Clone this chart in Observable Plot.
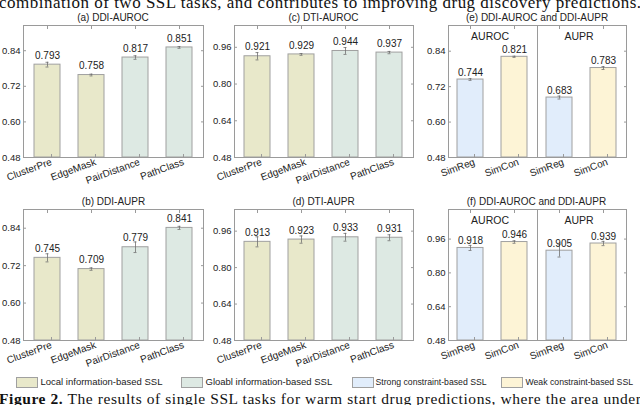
<!DOCTYPE html>
<html>
<head>
<meta charset="utf-8">
<script src="https://cdn.jsdelivr.net/npm/d3@7"></script>
<script src="https://cdn.jsdelivr.net/npm/@observablehq/plot@0.6"></script>
<style>
  html, body { margin: 0; padding: 0; background: #fff; }
  #wrap { position: relative; width: 640px; height: 405px; overflow: hidden; background: #fff;
          font-family: "Liberation Sans", Arial, Helvetica, sans-serif; color: #222; }
  .panel { position: absolute; }
  .ptitle { position: absolute; text-align: center; font-size: 10px; line-height: 10px; white-space: nowrap; }
  .sw { position: absolute; width: 20px; height: 9px; border: 1px solid #a0a0a0; }
  .lt { position: absolute; line-height: 10px; white-space: nowrap; }
  svg.para { position: absolute; left: 0; overflow: visible; }
</style>
</head>
<body>
<div id="wrap"></div>
<script>
// ---------- data ----------
const methods = ["ClusterPre", "EdgeMask", "PairDistance", "PathClass"];
const methodGroups = ["Local", "Local", "Global", "Global"];

const ddiAuroc = [0.793, 0.758, 0.817, 0.851];
const ddiAurocErr = [0.008, 0.003, 0.006, 0.003];
const ddiAupr = [0.745, 0.709, 0.779, 0.841];
const ddiAuprErr = [0.013, 0.004, 0.017, 0.005];
const dtiAuroc = [0.921, 0.929, 0.944, 0.937];
const dtiAurocErr = [0.016, 0.004, 0.015, 0.005];
const dtiAupr = [0.913, 0.923, 0.933, 0.931];
const dtiAuprErr = [0.022, 0.016, 0.017, 0.013];

const metrics = ["AUROC", "AUROC", "AUPR", "AUPR"];
const constraintMethods = ["SimReg", "SimCon", "SimReg", "SimCon"];
const constraintE = [0.744, 0.821, 0.683, 0.783];
const constraintEErr = [0.003, 0.002, 0.005, 0.005];
const constraintF = [0.918, 0.946, 0.905, 0.939];
const constraintFErr = [0.012, 0.006, 0.030, 0.010];

const ticksDdi = [0.48, 0.60, 0.72, 0.84];
const ticksDti = [0.48, 0.64, 0.80, 0.96];

const titles = ["(a) DDI-AUROC", "(b) DDI-AUPR", "(c) DTI-AUROC", "(d) DTI-AUPR",
                "(e) DDI-AUROC and DDI-AUPR", "(f) DDI-AUROC and DDI-AUPR"];
const legendLabels = ["Local information-based SSL", "Gloabl information-based SSL",
                      "Strong constraint-based SSL", "Weak constraint-based SSL"];
const legendColors = ["#e8e8ca", "#dde9e3", "#e1edfb", "#fdf4d6"];

const topText = "combination of two SSL tasks, and contributes to improving drug discovery predictions.";
const captionBold = "Figure 2.";
const captionRest = " The results of single SSL tasks for warm start drug predictions, where the area under";

// ---------- helpers ----------
const wrap = document.getElementById("wrap");
const FONT = "'Liberation Sans', Arial, Helvetica, sans-serif";
const FRAME = "#9a9a9a";

function rows(values, errs, cats, groups, facets) {
  return values.map((v, i) => ({
    method: cats[i], group: groups[i], value: v, err: errs[i], metric: facets ? facets[i] : null
  }));
}

function commonMarks(data, y0, yTicks, fx, labelDy) {
  const fxo = fx ? {fx: "metric"} : {};
  return [
    Plot.barY(data, {...fxo, x: "method", y1: y0, y2: "value", fill: "group", stroke: "#a0a0a0", strokeWidth: 1}),
    Plot.ruleX(data, {...fxo, x: "method", y1: d => d.value - d.err, y2: d => d.value + d.err, stroke: "#707070", strokeWidth: 0.8}),
    Plot.tickY(data, {...fxo, x: "method", y: d => d.value - d.err, stroke: "#707070", strokeWidth: 0.8, insetLeft: 11.5, insetRight: 11.5}),
    Plot.tickY(data, {...fxo, x: "method", y: d => d.value + d.err, stroke: "#707070", strokeWidth: 0.8, insetLeft: 11.5, insetRight: 11.5}),
    Plot.text(data, {...fxo, x: "method", y: "value", text: d => d.value.toFixed(3), dy: labelDy, fontSize: 10, fill: "#222"}),
    Plot.frame({stroke: FRAME, strokeWidth: 1}),
    Plot.axisY({ticks: yTicks, tickFormat: ".2f", tickSize: -3, tickPadding: 6, stroke: FRAME, fill: "#222", fontSize: 9.5, label: null}),
    Plot.axisY({ticks: yTicks, anchor: "right", tickSize: -3, tickFormat: () => "", stroke: FRAME, label: null}),
    Plot.axisX({tickRotate: -20, tickSize: -3, tickPadding: 7, dx: 4, stroke: FRAME, fill: "#222", fontSize: 10, label: null}),
    Plot.axisX({anchor: "top", tickSize: -3, tickFormat: () => "", stroke: FRAME, label: null})
  ];
}

function place(svg, left, top) {
  const d = document.createElement("div");
  d.className = "panel";
  d.style.left = left + "px";
  d.style.top = top + "px";
  d.appendChild(svg);
  wrap.appendChild(d);
}

function singlePanel(values, errs, yDomain, yTicks, layout) {
  const data = rows(values, errs, methods, methodGroups);
  return Plot.plot({
    width: layout.w, height: layout.h,
    marginLeft: layout.ml, marginRight: layout.mr, marginTop: layout.mt, marginBottom: layout.mb,
    style: {fontFamily: FONT, fontSize: "9.5px", background: "transparent", overflow: "visible", color: "#222"},
    x: {domain: methods, paddingInner: 0.4, paddingOuter: 0.22, label: null, axis: null},
    y: {domain: yDomain, label: null, axis: null},
    color: {domain: ["Local", "Global"], range: [legendColors[0], legendColors[1]]},
    marks: commonMarks(data, yDomain[0], yTicks, false, -9)
  });
}

function facetPanel(values, errs, yDomain, yTicks, layout) {
  const data = rows(values, errs, constraintMethods, constraintMethods, metrics);
  const facetNames = Array.from(new Set(metrics));
  return Plot.plot({
    width: layout.w, height: layout.h,
    marginLeft: layout.ml, marginRight: layout.mr, marginTop: layout.mt, marginBottom: layout.mb,
    style: {fontFamily: FONT, fontSize: "9.5px", background: "transparent", overflow: "visible", color: "#222"},
    fx: {domain: facetNames, padding: 0, axis: null, label: null},
    x: {domain: ["SimReg", "SimCon"], paddingInner: 0.4, paddingOuter: 0.2, label: null, axis: null},
    y: {domain: yDomain, label: null, axis: null},
    color: {domain: ["SimReg", "SimCon"], range: [legendColors[2], legendColors[3]]},
    marks: [
      ...commonMarks(data, yDomain[0], yTicks, true, -7),
      Plot.text(facetNames, {fx: d => d, text: d => d, frameAnchor: "top", lineAnchor: "middle", dy: 11.5, dx: -3, fontSize: 10.5, fill: "#222"})
    ]
  });
}

// ---------- panels ----------
const row1 = {h: 185, mt: 25, mb: 28};
const row2 = {h: 180, mt: 24, mb: 25};
const col1 = {w: 210, ml: 23, mr: 7};
const col2 = {w: 210, ml: 24, mr: 7};
const col3 = {w: 220, ml: 28, mr: 14};

place(singlePanel(ddiAuroc, ddiAurocErr, [0.48, 0.925], ticksDdi, {...col1, ...row1}), 0, 0);
place(singlePanel(ddiAupr, ddiAuprErr, [0.48, 0.90], ticksDdi, {...col1, ...row2}), 0, 185);
place(singlePanel(dtiAuroc, dtiAurocErr, [0.48, 1.055], ticksDti, {...col2, ...row1}), 210, 0);
place(singlePanel(dtiAupr, dtiAuprErr, [0.48, 1.055], ticksDti, {...col2, ...row2}), 210, 185);
place(facetPanel(constraintE, constraintEErr, [0.48, 0.927], ticksDdi, {...col3, ...row1}), 420, 0);
place(facetPanel(constraintF, constraintFErr, [0.48, 1.10], ticksDti, {...col3, ...row2}), 420, 185);

// ---------- titles ----------
const titlePos = [
  [23, 180, 13], [24, 179, 197], [234, 179, 13], [234, 179, 197], [448, 178, 13], [447, 179, 197]
];
titles.forEach((t, i) => {
  const d = document.createElement("div");
  d.className = "ptitle";
  d.style.left = titlePos[i][0] + "px";
  d.style.width = titlePos[i][1] + "px";
  d.style.top = titlePos[i][2] + "px";
  d.textContent = t;
  wrap.appendChild(d);
});

// ---------- legend ----------
const swatchX = [16, 181, 352, 501];
const textX = [40.5, 205.5, 375.5, 525.5];
const legendSize = [9.5, 9.5, 8.7, 8.7];
legendLabels.forEach((lab, i) => {
  const s = document.createElement("div");
  s.className = "sw";
  s.style.left = swatchX[i] + "px";
  s.style.top = "376.5px";
  s.style.background = legendColors[i];
  wrap.appendChild(s);
  const t = document.createElement("div");
  t.className = "lt";
  t.style.left = textX[i] + "px";
  t.style.top = "376.5px";
  t.style.fontSize = legendSize[i] + "px";
  t.textContent = lab;
  wrap.appendChild(t);
});

// ---------- surrounding paper text ----------
const NS = "http://www.w3.org/2000/svg";
function paraLine(parts, baseline, size) {
  const svg = document.createElementNS(NS, "svg");
  svg.setAttribute("class", "para");
  svg.setAttribute("width", 640);
  svg.setAttribute("height", 30);
  svg.style.top = (baseline - 20) + "px";
  const text = document.createElementNS(NS, "text");
  text.setAttribute("x", -1);
  text.setAttribute("y", 20);
  text.setAttribute("font-family", "'Liberation Serif', 'Times New Roman', serif");
  text.setAttribute("font-size", size);
  text.setAttribute("fill", "#111");
  text.setAttribute("textLength", 642);
  text.setAttribute("lengthAdjust", "spacing");
  parts.forEach(([str, bold]) => {
    const ts = document.createElementNS(NS, "tspan");
    if (bold) ts.setAttribute("font-weight", "bold");
    ts.textContent = str;
    text.appendChild(ts);
  });
  svg.appendChild(text);
  wrap.appendChild(svg);
}
paraLine([[topText, false]], 8.3, 17);
paraLine([[captionBold, true], [captionRest, false]], 403.5, 15.5);
</script>
</body>
</html>
